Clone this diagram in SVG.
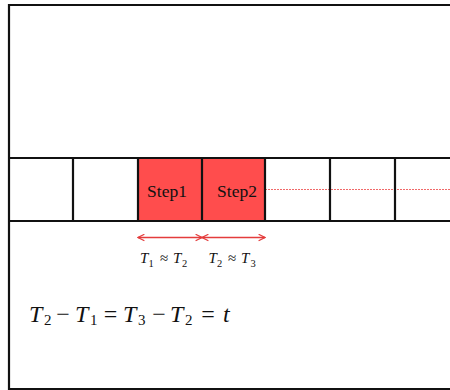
<svg xmlns="http://www.w3.org/2000/svg" width="450" height="390" viewBox="0 0 450 390">
<style>
.frame{stroke:#111;stroke-width:2.2;fill:none}
.step{font-family:'Liberation Serif','DejaVu Serif',serif;font-size:17.5px;fill:#111;text-anchor:middle}
.math{font-family:'Liberation Serif','DejaVu Serif',serif;fill:#111}
.it{font-style:italic}
.lb{font-size:15px}
.lbs{font-size:10.5px}
.eq{font-size:24px}
.eqs{font-size:15px}
.op{text-anchor:middle}
.arr{stroke:#e43c3c;stroke-width:1.6;fill:none}
</style>
<defs>
<marker id="ah" viewBox="0 0 10 10" refX="9" refY="5" markerWidth="8" markerHeight="8" orient="auto-start-reverse" markerUnits="userSpaceOnUse">
<path d="M1,1 L9,5 L1,9" fill="none" stroke="#e43c3c" stroke-width="1.6"/>
</marker>
</defs>
<rect width="450" height="390" fill="#fff"/>
<g id="frame">
<path class="frame" d="M450,5 H9 V389 H450"/>
</g>
<g id="strip">
<rect x="138" y="158" width="127" height="63" fill="#ff4d4d"/>
<line x1="265" y1="189.5" x2="450" y2="189.5" stroke="#f06a6a" stroke-width="1" stroke-dasharray="2,1"/>
<path class="frame" d="M9,158 H450 M9,221 H450 M73,158 V221 M138,158 V221 M202,158 V221 M265,158 V221 M330,158 V221 M395,158 V221"/>
</g>
<g id="step1"><text class="step" x="167" y="196.5">Step1</text></g>
<g id="step2"><text class="step" x="237" y="196.5">Step2</text></g>
<g id="connectors">
<line class="arr" x1="138" y1="237.5" x2="202" y2="237.5" marker-start="url(#ah)" marker-end="url(#ah)"/>
<line class="arr" x1="202" y1="237.5" x2="265" y2="237.5" marker-start="url(#ah)" marker-end="url(#ah)"/>
</g>
<g id="label1" class="math">
<text class="it lb" x="140" y="263">T</text>
<text class="lbs" x="148.5" y="266.5">1</text>
<text class="lb op" x="164" y="263">≈</text>
<text class="it lb" x="173" y="263">T</text>
<text class="lbs" x="182" y="266.5">2</text>
</g>
<g id="label2" class="math">
<text class="it lb" x="208.5" y="263">T</text>
<text class="lbs" x="217" y="266.5">2</text>
<text class="lb op" x="232" y="263">≈</text>
<text class="it lb" x="241" y="263">T</text>
<text class="lbs" x="250.5" y="266.5">3</text>
</g>
<g id="equation" class="math">
<text class="it eq" x="29" y="321.5">T</text>
<text class="eqs" x="44" y="325">2</text>
<text class="eq op" x="63" y="321.5">−</text>
<text class="it eq" x="75" y="321.5">T</text>
<text class="eqs" x="90" y="325">1</text>
<text class="eq op" x="110.5" y="321.5">=</text>
<text class="it eq" x="123" y="321.5">T</text>
<text class="eqs" x="138" y="325">3</text>
<text class="eq op" x="159" y="321.5">−</text>
<text class="it eq" x="170" y="321.5">T</text>
<text class="eqs" x="185" y="325">2</text>
<text class="eq op" x="208" y="321.5">=</text>
<text class="it eq" x="223" y="321.5">t</text>
</g>
</svg>
